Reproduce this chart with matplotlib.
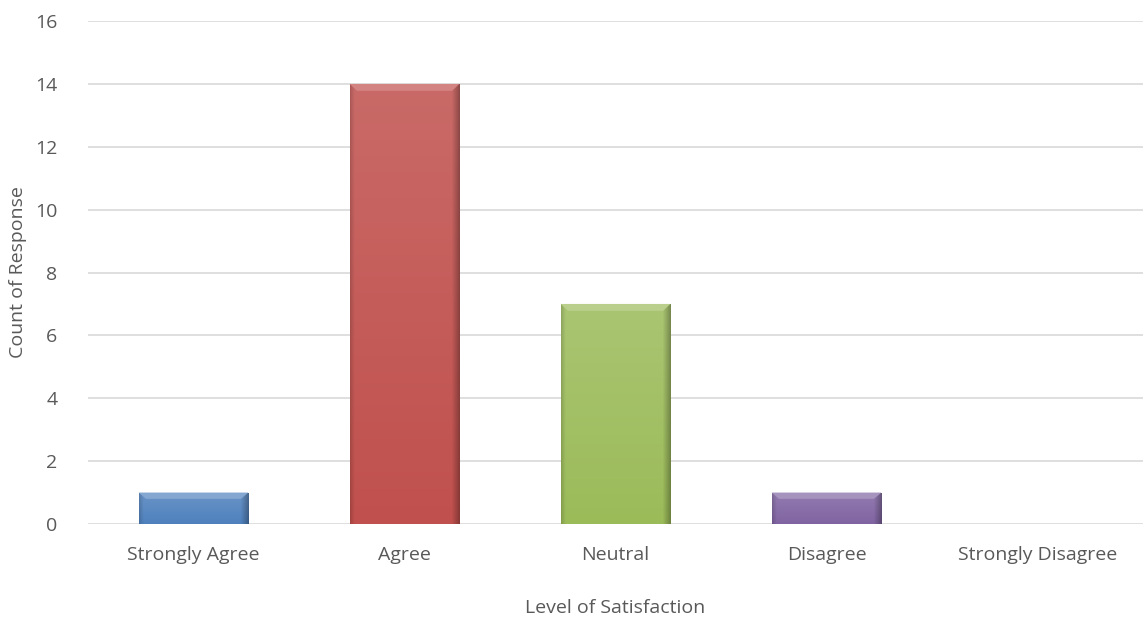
import numpy as np
import matplotlib.pyplot as plt
from matplotlib.colors import to_rgb

categories = ['Strongly Agree', 'Agree', 'Neutral', 'Disagree', 'Strongly Disagree']
counts = [1, 14, 7, 1, 0]
colors = ['#4F81BD', '#C0504D', '#9BBB59', '#8064A2', '#F79646']

plt.rcParams['font.family'] = ['Open Sans', 'DejaVu Sans']
text_col = '#595959'


def shade(c, f):
    r = np.array(to_rgb(c))
    if f > 0:
        return r + (1 - r) * f
    return r * (1 + f)


fig = plt.figure(figsize=(11.43, 6.19), dpi=100)
ax = fig.add_axes([0.077, 0.1535, 0.923, 0.8125])

x = np.arange(len(categories))
bars = ax.bar(x, counts, width=0.52, color=colors, zorder=2)

ax.set_xlim(-0.5, len(categories) - 0.5)
ax.set_ylim(0, 16)
ax.set_yticks(range(0, 17, 2))

# soft bevel: top lighter, darker right edge, small light band on top
for b, c in zip(bars, colors):
    h = b.get_height()
    if h <= 0:
        continue
    x0, w = b.get_x(), b.get_width()
    ny, nx = 100, 100
    t = np.linspace(1, 0, ny)[:, None]  # 1 at top
    u = np.linspace(0, 1, nx)[None, :]
    base = shade(c, 0.0)
    light = shade(c, 0.15)
    img = base[None, None, :] * (1 - t[..., None]) + light[None, None, :] * t[..., None]
    img = img * np.ones((1, nx, 1))
    edge_r = np.clip((u - 0.93) / 0.07, 0, 1)[..., None]
    img = img * (1 - 0.3 * edge_r)
    edge_l = np.clip((0.04 - u) / 0.04, 0, 1)[..., None]
    img = img * (1 - 0.15 * edge_l)
    im = ax.imshow(np.clip(img, 0, 1), extent=[x0, x0 + w, 0, h], aspect='auto', zorder=2.1)
    im.set_clip_path(b)
    top = min(0.22, h * 0.2)
    ax.fill([x0, x0 + w, x0 + w - 0.035, x0 + 0.035], [h, h, h - top, h - top],
            color=shade(c, 0.3), zorder=2.2, lw=0)

ax.grid(axis='y', color='#D9D9D9', lw=1.2, zorder=0)
for s in ax.spines.values():
    s.set_visible(False)
ax.tick_params(length=0, labelsize=14, colors=text_col, pad=16)
ax.tick_params(axis='y', pad=22)
ax.set_xticks(x)
ax.set_xticklabels(categories)

ax.set_xlabel('Level of Satisfaction', fontsize=14, color=text_col, labelpad=25)
ax.set_ylabel('Count of Response', fontsize=14, color=text_col)
ax.yaxis.set_label_coords(-0.058, 0.5)

fig.savefig('out.png', dpi=100)
